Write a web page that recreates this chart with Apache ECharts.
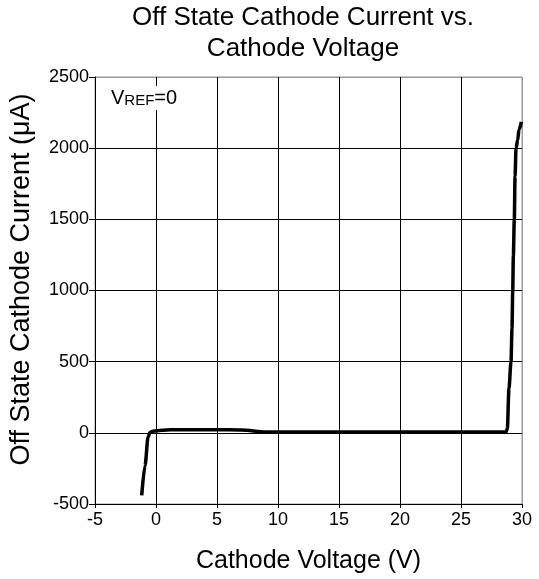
<!DOCTYPE html>
<html>
<head>
<meta charset="utf-8">
<script src="https://cdn.jsdelivr.net/npm/echarts@6/dist/echarts.min.js"></script>
<style>
  html, body { margin: 0; padding: 0; background: #fff; }
  #chart { width: 539px; height: 579px; }
</style>
</head>
<body>
<div id="chart"></div>
<script>
// curve: cathode voltage (V) vs off state current (uA)
var voltage = [-1.17, -0.9, -0.65, -0.5, -0.25, 0.5, 1.2, 5, 7, 9, 15, 20, 25, 28.7,
               28.8, 28.93, 29.1, 29.18, 29.24, 29.29, 29.37, 29.43, 29.51, 29.65, 29.75, 29.95];
var current = [-440, -230, -30, 3, 12, 18, 22, 22, 20, 6, 5, 5, 5, 6,
               31, 311, 500, 731, 1000, 1241, 1500, 1801, 2000, 2059, 2129, 2185];

var xTicks = { min: -5, max: 30, step: 5 };
var yTicks = { min: -500, max: 2500, step: 500 };

var FONT = 'Liberation Sans, Arial, sans-serif';

var points = [];
for (var i = 0; i < voltage.length; i++) {
    points.push([voltage[i], current[i]]);
}

// last grid line (top / right edge) is grey like the plot frame
function gridColors(n) {
    var c = [];
    for (var k = 0; k < n - 1; k++) c.push('#000');
    c.push('#9a9a9a');
    return c;
}

var chart = echarts.init(document.getElementById('chart'));

var option = {
    backgroundColor: '#fff',
    animation: false,
    title: {
        text: 'Off State Cathode Current vs.\nCathode Voltage',
        left: 303,
        top: 2,
        padding: 0,
        textAlign: 'center',
        textStyle: {
            fontFamily: FONT,
            fontSize: 26,
            fontWeight: 'normal',
            color: '#000',
            lineHeight: 31
        }
    },
    grid: {
        left: 95,
        right: 17,
        top: 77,
        bottom: 73,
        show: true,
        borderColor: '#9a9a9a',
        borderWidth: 1
    },
    xAxis: {
        type: 'value',
        min: xTicks.min,
        max: xTicks.max,
        interval: xTicks.step,
        name: 'Cathode Voltage (V)',
        nameLocation: 'middle',
        nameGap: 45,
        nameTextStyle: { fontFamily: FONT, fontSize: 25, color: '#000' },
        axisLine: { onZero: false, lineStyle: { color: '#000', width: 1 } },
        axisTick: { show: true, length: 4, lineStyle: { color: '#000' } },
        axisLabel: { fontFamily: FONT, fontSize: 18, color: '#000', margin: 7 },
        splitLine: { show: true, lineStyle: { color: gridColors(8), width: 1 } }
    },
    yAxis: {
        type: 'value',
        min: yTicks.min,
        max: yTicks.max,
        interval: yTicks.step,
        name: 'Off State Cathode Current (\u03bcA)',
        nameLocation: 'middle',
        nameGap: 60,
        nameTextStyle: { fontFamily: FONT, fontSize: 27, color: '#000', padding: [0, 0, 0, 22] },
        axisLine: { show: true, onZero: false, lineStyle: { color: '#000', width: 1 } },
        axisTick: { show: true, length: 6, lineStyle: { color: '#000' } },
        axisLabel: {
            fontFamily: FONT, fontSize: 18, color: '#000', margin: 6,
            formatter: function (v) { return String(v); }
        },
        splitLine: { show: true, lineStyle: { color: gridColors(7), width: 1 } }
    },
    graphic: [{
        type: 'text',
        left: 108,
        top: 86,
        z: 100,
        style: {
            text: '{v|V}{r|REF}{v|=0}',
            backgroundColor: '#fff',
            padding: [2, 3],
            rich: {
                v: { fontFamily: FONT, fontSize: 20, fill: '#000' },
                r: { fontFamily: FONT, fontSize: 15, fill: '#000', verticalAlign: 'bottom' }
            }
        }
    }],
    series: [{
        type: 'line',
        data: points,
        showSymbol: false,
        smooth: 0.3,
        smoothMonotone: 'x',
        clip: false,
        lineStyle: { color: '#000', width: 3.5 },
        z: 10
    }]
};

chart.setOption(option);
</script>
</body>
</html>
